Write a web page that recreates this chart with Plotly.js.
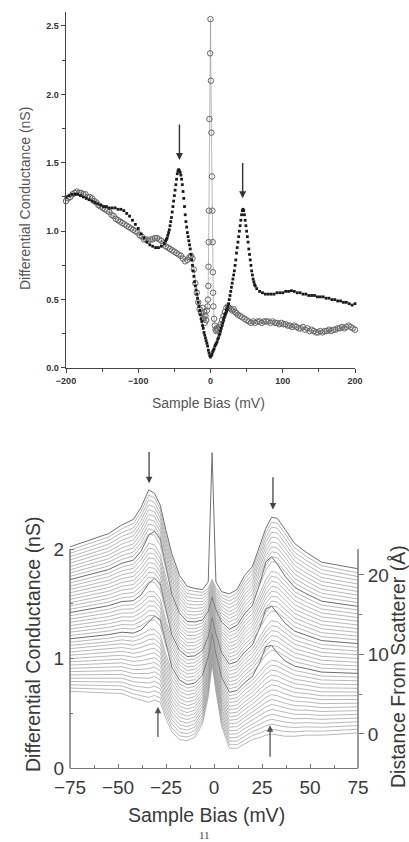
<!DOCTYPE html>
<html><head><meta charset="utf-8">
<script src="https://cdn.plot.ly/plotly-3.0.1.min.js"></script>
<style>html,body{margin:0;padding:0;background:#fff}#chart{width:409px;height:842px}</style>
</head><body><div id="chart"></div>
<script>
// ---------- top panel: two spectra ----------
const biasDots = [-200,-196,-192,-188,-184,-180,-176,-172,-168,-164,-160,-156,-152,-148,-144,-140,-136,-132,-128,-124,-120,-116,-112,-108,-104,-100,-96,-92,-88,-84,-80,-76,-72,-68,-64,
-62,-61,-60,-59,-58,-57,-56,-55,-54,-53,-52,-51,-50,-49,-48,-47,-46,-45,-44,-43,-42,-41,-40,-39,-38,-37,-36,-35,-34,-33,-32,-31,-30,-29,-28,-27,-26,-25,-24,-23,-22,-21,-20,-19,-18,-17,-16,-15,-14,-13,-12,-11,-10,-9,-8,-7,-6,-5,-4,-3,-2,-1,0,1,2,3,4,5,6,7,8,9,10,11,12,13,14,15,16,17,18,19,20,21,22,23,24,25,26,27,28,29,30,31,32,33,34,35,36,37,38,39,40,41,42,43,44,45,46,47,48,49,50,51,52,53,54,55,56,57,58,59,60,61,62,
64,68,72,76,80,84,88,92,96,100,104,108,112,116,120,124,128,132,136,140,144,148,152,156,160,164,168,172,176,180,184,188,192,196,200];
const condDots = [1.25,1.26,1.27,1.27,1.27,1.26,1.25,1.24,1.23,1.22,1.21,1.20,1.19,1.18,1.18,1.17,1.17,1.17,1.16,1.16,1.15,1.13,1.11,1.08,1.05,1.02,0.98,0.95,0.92,0.90,0.89,0.88,0.88,0.89,0.91,
0.93,0.94,0.95,0.97,0.99,1.01,1.04,1.07,1.10,1.14,
1.18,1.22,1.26,1.30,1.34,1.38,1.42,1.44,1.45,1.44,
1.43,1.41,1.38,1.34,1.29,1.24,1.18,1.12,1.07,1.03,
0.99,0.96,0.93,0.90,0.87,0.83,0.79,0.75,0.71,0.67,
0.63,0.60,0.57,0.54,0.51,0.48,0.45,0.42,0.39,0.36,
0.34,0.31,0.29,0.26,0.24,0.22,0.20,0.18,0.16,0.13,
0.11,0.09,0.08,0.09,0.10,0.12,0.13,0.14,0.16,0.17,
0.18,0.19,0.21,0.22,0.24,0.25,0.27,0.29,0.31,0.33,
0.35,0.37,0.39,0.40,0.42,0.43,0.45,0.47,0.50,0.53,
0.56,0.59,0.62,0.65,0.68,0.71,0.75,0.79,0.84,0.88,
0.92,0.96,1.00,1.04,1.08,1.12,1.15,1.16,1.15,1.12,
1.08,1.04,1.00,0.96,0.92,0.87,0.83,0.79,0.75,0.71,
0.68,0.65,0.63,0.61,0.60,
0.58,0.56,0.55,0.54,0.54,0.54,0.54,0.55,0.55,0.55,0.56,0.56,0.565,0.56,0.55,0.55,0.54,0.54,0.53,0.53,0.53,0.52,0.52,0.52,0.51,0.51,0.50,0.50,0.49,0.49,0.48,0.48,0.47,0.46,0.47];

const biasCircles = [-200,-197,-194,-191,-188,-185,-182,-179,-176,-173,-170,-167,-164,-161,-158,-155,-152,-149,-146,-143,-140,-137,-134,-131,-128,-125,-122,-119,-116,-113,-110,-107,-104,-101,-98,-95,-92,-89,-86,-83,-80,-77,-74,-71,-68,-65,-62,-59,-56,-53,-50,-47,-44,-41,-38,-35,-32,-29,
-27,-25,-23,-21,-19,-17,-15,-13,-11,-10,-9,-8,-7,-6,-5,-4,
-3.5,-3,-2.8,-2.5,-2.2,-1.5,-0.5,0,0.6,1.2,2,2.6,3,3.3,3.6,4,
5,6,7,8,9,10,12,14,16,18,20,22,24,26,28,30,32,34,36,38,
41,44,47,50,53,56,59,62,65,68,71,74,77,80,83,86,89,92,95,98,101,104,107,110,113,116,119,122,125,128,131,134,137,140,143,146,149,152,155,158,161,164,167,170,173,176,179,182,185,188,191,194,197,200];
const condCircles = [1.22,1.24,1.25,1.27,1.28,1.29,1.28,1.28,1.27,1.27,1.25,1.25,1.24,1.22,1.21,1.19,1.18,1.17,1.16,1.15,1.14,1.12,1.11,1.09,1.08,1.07,1.06,1.05,1.04,1.03,1.02,1.01,1.00,0.99,0.97,0.96,0.94,0.94,0.93,0.94,0.94,0.95,0.95,0.94,0.93,0.91,0.89,0.88,0.87,0.86,0.85,0.84,0.83,0.82,0.80,0.78,0.79,0.81,
0.82,0.80,0.72,0.62,0.55,0.48,0.43,0.40,0.44,0.36,0.41,0.33,0.38,0.35,0.42,0.45,
0.50,0.60,0.74,0.92,1.15,1.82,2.30,2.55,2.10,1.72,1.40,1.15,0.92,0.70,0.55,0.45,
0.36,0.31,0.28,0.27,0.29,0.28,0.30,0.32,0.35,0.38,0.41,0.44,0.45,0.44,0.43,0.42,0.43,0.41,0.40,0.39,
0.38,0.37,0.36,0.35,0.34,0.33,0.34,0.33,0.34,0.34,0.33,0.34,0.34,0.34,0.33,0.34,0.33,0.33,0.32,0.33,0.32,0.32,0.31,0.31,0.30,0.31,0.30,0.29,0.29,0.30,0.28,0.29,0.27,0.28,0.27,0.26,0.26,0.27,0.26,0.27,0.27,0.28,0.27,0.28,0.28,0.29,0.29,0.30,0.29,0.30,0.31,0.30,0.29,0.28];

const topXTicks = [-200,-100,0,100,200];
const topYTicks = [0,0.5,1,1.5,2,2.5];
const topYTickText = ['0.0','0.5','1.0','1.5','2.0','2.5'];

// ---------- bottom panel: waterfall of spectra vs distance ----------
const wfBias = [-75,-55,-48,-42,-38,-34,-31,-28,-25,-22,-18,-14,-10,-6,-3,-1,1,4,8,12,16,20,24,27,30,33,37,42,48,56,75];
const wfSpectra = [
[.7,.69,.68,.64,.62,.6,.62,.6,.45,.33,.26,.25,.28,.4,.65,.95,.7,.38,.18,.18,.22,.26,.28,.3,.31,.3,.29,.29,.3,.3,.32],
[.73,.723,.715,.677,.66,.644,.663,.641,.489,.367,.294,.282,.311,.428,.673,.968,.722,.408,.212,.213,.255,.296,.32,.343,.355,.345,.333,.33,.338,.336,.354],
[.76,.756,.75,.714,.7,.688,.706,.682,.528,.404,.328,.314,.342,.456,.696,.986,.744,.436,.244,.246,.29,.332,.36,.386,.4,.39,.376,.37,.376,.372,.388],
[.79,.789,.785,.751,.74,.732,.749,.723,.567,.441,.362,.346,.373,.484,.719,1.004,.766,.464,.276,.279,.325,.368,.4,.429,.445,.435,.419,.41,.414,.408,.422],
[.82,.822,.82,.788,.78,.776,.792,.764,.606,.478,.396,.378,.404,.512,.742,1.022,.788,.492,.308,.312,.36,.404,.44,.472,.49,.48,.462,.45,.452,.444,.456],
[.85,.855,.855,.825,.82,.82,.835,.805,.645,.515,.43,.41,.435,.54,.765,1.04,.81,.52,.34,.345,.395,.44,.48,.515,.535,.525,.505,.49,.49,.48,.49],
[.88,.888,.89,.862,.86,.864,.878,.846,.684,.552,.464,.442,.466,.568,.788,1.058,.832,.548,.372,.378,.43,.476,.52,.558,.58,.57,.548,.53,.528,.516,.524],
[.91,.921,.925,.899,.9,.908,.921,.887,.723,.589,.498,.474,.497,.596,.811,1.076,.854,.576,.404,.411,.465,.512,.56,.601,.625,.615,.591,.57,.566,.552,.558],
[.94,.954,.96,.936,.94,.952,.964,.928,.762,.626,.532,.506,.528,.624,.834,1.094,.876,.604,.436,.444,.5,.548,.6,.644,.67,.66,.634,.61,.604,.588,.592],
[.97,.987,.995,.973,.98,.996,1.007,.969,.801,.663,.566,.538,.559,.652,.857,1.112,.898,.632,.468,.477,.535,.584,.64,.687,.715,.705,.677,.65,.642,.624,.626],
[1,1.02,1.03,1.01,1.02,1.04,1.05,1.01,.84,.7,.6,.57,.59,.68,.88,1.13,.92,.66,.5,.51,.57,.62,.68,.73,.76,.75,.72,.69,.68,.66,.66],
[1.03,1.053,1.065,1.047,1.06,1.084,1.093,1.051,.879,.737,.634,.602,.621,.708,.903,1.148,.942,.688,.532,.543,.605,.656,.72,.773,.805,.795,.763,.73,.718,.696,.694],
[1.06,1.086,1.1,1.084,1.1,1.128,1.136,1.092,.918,.774,.668,.634,.652,.736,.926,1.166,.964,.716,.564,.576,.64,.692,.76,.816,.85,.84,.806,.77,.756,.732,.728],
[1.09,1.119,1.135,1.121,1.14,1.172,1.179,1.133,.957,.811,.702,.666,.683,.764,.949,1.184,.986,.744,.596,.609,.675,.728,.8,.859,.895,.885,.849,.81,.794,.768,.762],
[1.12,1.152,1.17,1.158,1.18,1.216,1.222,1.174,.996,.848,.736,.698,.714,.792,.972,1.202,1.008,.772,.628,.642,.71,.764,.84,.902,.94,.93,.892,.85,.832,.804,.796],
[1.15,1.185,1.205,1.195,1.22,1.26,1.265,1.215,1.035,.885,.77,.73,.745,.82,.995,1.22,1.03,.8,.66,.675,.745,.8,.88,.945,.985,.975,.935,.89,.87,.84,.83],
[1.18,1.218,1.24,1.232,1.26,1.334,1.388,1.356,1.134,.922,.804,.762,.776,.848,1.018,1.238,1.052,.828,.692,.708,.78,.836,.97,1.108,1.12,1.05,.978,.93,.908,.876,.864],
[1.21,1.251,1.275,1.269,1.3,1.348,1.351,1.297,1.113,.959,.838,.794,.807,.876,1.041,1.256,1.074,.856,.724,.741,.815,.872,.96,1.031,1.075,1.065,1.021,.97,.946,.912,.898],
[1.24,1.284,1.31,1.306,1.34,1.392,1.394,1.338,1.152,.996,.872,.826,.838,.904,1.064,1.274,1.096,.884,.756,.774,.85,.908,1,1.074,1.12,1.11,1.064,1.01,.984,.948,.932],
[1.27,1.317,1.345,1.343,1.38,1.436,1.437,1.379,1.191,1.033,.906,.858,.869,.932,1.087,1.292,1.118,.912,.788,.807,.885,.944,1.04,1.117,1.165,1.155,1.107,1.05,1.022,.984,.966],
[1.3,1.35,1.38,1.38,1.42,1.48,1.48,1.42,1.23,1.07,.94,.89,.9,.96,1.11,1.31,1.14,.94,.82,.84,.92,.98,1.08,1.16,1.21,1.2,1.15,1.09,1.06,1.02,1],
[1.33,1.383,1.415,1.417,1.46,1.524,1.523,1.461,1.269,1.107,.974,.922,.931,.988,1.133,1.328,1.162,.968,.852,.873,.955,1.016,1.12,1.203,1.255,1.245,1.193,1.13,1.098,1.056,1.034],
[1.36,1.416,1.45,1.454,1.5,1.568,1.566,1.502,1.308,1.144,1.008,.954,.962,1.016,1.156,1.346,1.184,.996,.884,.906,.99,1.052,1.16,1.246,1.3,1.29,1.236,1.17,1.136,1.092,1.068],
[1.39,1.449,1.485,1.491,1.54,1.612,1.609,1.543,1.347,1.181,1.042,.986,.993,1.044,1.179,1.364,1.206,1.024,.916,.939,1.025,1.088,1.2,1.289,1.345,1.335,1.279,1.21,1.174,1.128,1.102],
[1.42,1.482,1.52,1.528,1.58,1.686,1.732,1.684,1.446,1.218,1.076,1.018,1.024,1.072,1.202,1.382,1.228,1.052,.948,.972,1.06,1.124,1.29,1.452,1.48,1.41,1.322,1.25,1.212,1.164,1.136],
[1.45,1.515,1.555,1.565,1.62,1.7,1.695,1.625,1.425,1.255,1.11,1.05,1.055,1.1,1.225,1.4,1.25,1.08,.98,1.005,1.095,1.16,1.28,1.375,1.435,1.425,1.365,1.29,1.25,1.2,1.17],
[1.48,1.548,1.59,1.602,1.66,1.744,1.738,1.666,1.464,1.292,1.144,1.082,1.086,1.128,1.248,1.418,1.272,1.108,1.012,1.038,1.13,1.196,1.32,1.418,1.48,1.47,1.408,1.33,1.288,1.236,1.204],
[1.51,1.581,1.625,1.639,1.7,1.788,1.781,1.707,1.503,1.329,1.178,1.114,1.117,1.156,1.271,1.436,1.294,1.136,1.044,1.071,1.165,1.232,1.36,1.461,1.525,1.515,1.451,1.37,1.326,1.272,1.238],
[1.54,1.614,1.66,1.676,1.74,1.832,1.824,1.748,1.542,1.366,1.212,1.146,1.148,1.184,1.294,1.454,1.316,1.164,1.076,1.104,1.2,1.268,1.4,1.504,1.57,1.56,1.494,1.41,1.364,1.308,1.272],
[1.57,1.647,1.695,1.713,1.78,1.876,1.867,1.789,1.581,1.403,1.246,1.178,1.179,1.212,1.317,1.472,1.338,1.192,1.108,1.137,1.235,1.304,1.44,1.547,1.615,1.605,1.537,1.45,1.402,1.344,1.306],
[1.6,1.68,1.73,1.75,1.82,1.92,1.91,1.83,1.62,1.44,1.28,1.21,1.21,1.24,1.34,1.49,1.36,1.22,1.14,1.17,1.27,1.34,1.48,1.59,1.66,1.65,1.58,1.49,1.44,1.38,1.34],
[1.63,1.713,1.765,1.787,1.86,1.964,1.953,1.871,1.659,1.477,1.314,1.242,1.241,1.268,1.363,1.508,1.382,1.248,1.172,1.203,1.305,1.376,1.52,1.633,1.705,1.695,1.623,1.53,1.478,1.416,1.374],
[1.66,1.746,1.8,1.824,1.9,2.008,1.996,1.912,1.698,1.514,1.348,1.274,1.272,1.296,1.386,1.526,1.404,1.276,1.204,1.236,1.34,1.412,1.56,1.676,1.75,1.74,1.666,1.57,1.516,1.452,1.408],
[1.69,1.779,1.835,1.861,1.94,2.052,2.039,1.953,1.737,1.551,1.382,1.306,1.303,1.324,1.409,1.544,1.426,1.304,1.236,1.269,1.375,1.448,1.6,1.719,1.795,1.785,1.709,1.61,1.554,1.488,1.442],
[1.72,1.812,1.87,1.898,1.98,2.126,2.162,2.094,1.836,1.588,1.416,1.338,1.334,1.352,1.432,1.562,1.448,1.332,1.268,1.302,1.41,1.484,1.69,1.882,1.93,1.86,1.752,1.65,1.592,1.524,1.476],
[1.75,1.845,1.905,1.935,2.02,2.14,2.125,2.035,1.815,1.625,1.45,1.37,1.365,1.38,1.455,1.58,1.47,1.36,1.3,1.335,1.445,1.52,1.68,1.805,1.885,1.875,1.795,1.69,1.63,1.56,1.51],
[1.78,1.878,1.94,1.972,2.06,2.184,2.168,2.076,1.854,1.662,1.484,1.402,1.396,1.408,1.478,1.598,1.492,1.388,1.332,1.368,1.48,1.556,1.72,1.848,1.93,1.92,1.838,1.73,1.668,1.596,1.544],
[1.81,1.911,1.975,2.009,2.1,2.228,2.211,2.117,1.893,1.699,1.518,1.434,1.427,1.436,1.501,1.616,1.514,1.416,1.364,1.401,1.515,1.592,1.76,1.891,1.975,1.965,1.881,1.77,1.706,1.632,1.578],
[1.84,1.944,2.01,2.046,2.14,2.272,2.254,2.158,1.932,1.736,1.552,1.466,1.458,1.464,1.524,1.634,1.536,1.444,1.396,1.434,1.55,1.628,1.8,1.934,2.02,2.01,1.924,1.81,1.744,1.668,1.612],
[1.87,1.977,2.045,2.083,2.18,2.316,2.297,2.199,1.971,1.773,1.586,1.498,1.489,1.492,1.547,1.652,1.558,1.472,1.428,1.467,1.585,1.664,1.84,1.977,2.065,2.055,1.967,1.85,1.782,1.704,1.646],
[1.9,2.01,2.08,2.12,2.22,2.36,2.34,2.24,2.01,1.81,1.62,1.53,1.52,1.52,1.57,1.67,1.58,1.5,1.46,1.5,1.62,1.7,1.88,2.02,2.11,2.1,2.01,1.89,1.82,1.74,1.68],
[1.93,2.043,2.115,2.157,2.26,2.404,2.383,2.281,2.049,1.847,1.654,1.562,1.551,1.548,1.593,1.688,1.602,1.528,1.492,1.533,1.655,1.736,1.92,2.063,2.155,2.145,2.053,1.93,1.858,1.776,1.714],
[1.96,2.076,2.15,2.194,2.3,2.448,2.426,2.322,2.088,1.884,1.688,1.594,1.582,1.576,1.616,1.706,1.624,1.556,1.524,1.566,1.69,1.772,1.96,2.106,2.2,2.19,2.096,1.97,1.896,1.812,1.748],
[1.99,2.109,2.185,2.231,2.34,2.492,2.469,2.363,2.127,1.921,1.722,1.626,1.613,1.604,1.639,1.724,1.646,1.584,1.556,1.599,1.725,1.808,2,2.149,2.245,2.235,2.139,2.01,1.934,1.848,1.782],
[2.02,2.14,2.22,2.27,2.38,2.54,2.51,2.4,2.17,1.96,1.76,1.66,1.64,1.63,1.7,2.88,1.7,1.61,1.59,1.63,1.76,1.84,2.04,2.19,2.29,2.28,2.18,2.05,1.97,1.88,1.82]
];
const wfHighlight = [16,24,34];
const botXTicks = [-75,-50,-25,0,25,50,75];
const botYTicks = [0,1,2];
const distTicks = [0,10,20];

// ---------- build ----------
const traces = [];
traces.push({x: biasCircles, y: condCircles, xaxis:'x', yaxis:'y', type:'scatter', mode:'lines+markers',
  line:{color:'#9a9a9a', width:0.7},
  marker:{symbol:'circle-open', size:5.5, color:'#666', line:{width:1}},
  cliponaxis:false, hoverinfo:'skip', showlegend:false});
traces.push({x: biasDots, y: condDots, xaxis:'x', yaxis:'y', type:'scatter', mode:'markers',
  marker:{symbol:'square', size:2.8, color:'#1a1a1a', line:{width:0}},
  cliponaxis:false, hoverinfo:'skip', showlegend:false});

const lastRow = wfSpectra.length - 1;
wfSpectra.forEach((row, i) => {
  const hi = wfHighlight.includes(i);
  traces.push({x: wfBias, y: row, xaxis:'x2', yaxis:'y2', type:'scatter', mode:'lines',
    line:{color: hi ? '#6b6b6b' : (i === lastRow ? '#707070' : '#a0a0a0'), width: hi ? 1.0 : (i === lastRow ? 1.0 : 0.75)},
    hoverinfo:'skip', showlegend:false});
});
traces.push({x:[null], y:[null], xaxis:'x2', yaxis:'y3', type:'scatter', mode:'markers', hoverinfo:'skip', showlegend:false});

const topTickFont = {family:'Liberation Sans, Arial, sans-serif', size:9, color:'#333', weight:'bold'};
const botTickFont = {family:'Liberation Sans, Arial, sans-serif', size:19, color:'#3a3a3a'};

const layout = {
  width:409, height:842, margin:{l:0,r:0,t:0,b:0},
  paper_bgcolor:'#fff', plot_bgcolor:'rgba(0,0,0,0)', showlegend:false,
  font:{family:'Liberation Sans, Arial, sans-serif'},
  xaxis:{domain:[0.16137,0.86797], anchor:'y', range:[-200,200], tickmode:'array', tickvals:topXTicks,
    ticks:'outside', ticklen:4, tickwidth:1, tickcolor:'#444',
    minor:{dtick:50, tick0:0, ticks:'outside', ticklen:3, tickcolor:'#444'},
    showline:true, linecolor:'#444', linewidth:1.5, showgrid:false, zeroline:false, tickfont:topTickFont},
  yaxis:{domain:[0.56295,0.98539], anchor:'x', range:[0,2.6], tickmode:'array', tickvals:topYTicks, ticktext:topYTickText,
    ticks:'outside', ticklen:4, tickwidth:1, tickcolor:'#444',
    minor:{dtick:0.25, tick0:0, ticks:'outside', ticklen:3, tickcolor:'#444'},
    showline:true, linecolor:'#444', linewidth:1.5, showgrid:false, zeroline:false, tickfont:topTickFont},
  xaxis2:{domain:[0.17115,0.87531], anchor:'y2', range:[-75,75], tickmode:'array', tickvals:botXTicks,
    ticks:'inside', ticklen:4, tickwidth:1, tickcolor:'#777', ticklabelstandoff:2,
    minor:{dtick:12.5, tick0:0, ticks:'inside', ticklen:3, tickcolor:'#777'},
    showline:true, linecolor:'#777', linewidth:1.5, showgrid:false, zeroline:false, tickfont:botTickFont},
  yaxis2:{domain:[0.08789,0.4715], anchor:'x2', range:[0,2.95], tickmode:'array', tickvals:botYTicks,
    ticks:'inside', ticklen:4, tickwidth:1, tickcolor:'#777', ticklabelstandoff:5,
    minor:{tickmode:'array', tickvals:[0.5,1.5], ticks:'inside', ticklen:3, tickcolor:'#777'},
    showline:false, showgrid:false, zeroline:false, tickfont:botTickFont},
  yaxis3:{overlaying:'y2', side:'right', anchor:'x2', range:[-4.28,36.35], tickmode:'array', tickvals:distTicks,
    ticks:'outside', ticklen:5, tickwidth:1, tickcolor:'#777',
    minor:{tickmode:'array', tickvals:[5,15], ticks:'outside', ticklen:3, tickcolor:'#777'},
    showline:false, showgrid:false, zeroline:false, tickfont:botTickFont},
  shapes:[
    {type:'line', xref:'x2 domain', yref:'y2', x0:0, x1:0, y0:0, y1:2, line:{color:'#777', width:1.5}},
    {type:'line', xref:'x2 domain', yref:'y2', x0:1, x1:1, y0:0, y1:2, line:{color:'#777', width:1.5}}
  ],
  annotations:[
    {text:'Sample Bias (mV)', xref:'paper', yref:'paper', x:0.511, y:0.5214, showarrow:false, xanchor:'center', yanchor:'middle',
      font:{size:14, color:'#555'}},
    {text:'Differential Conductance (nS)', xref:'paper', yref:'paper', x:0.0611, y:0.7648, textangle:-90, showarrow:false,
      xanchor:'center', yanchor:'middle', font:{size:14, color:'#555'}},
    {text:'Sample Bias (mV)', xref:'paper', yref:'paper', x:0.5037, y:0.0321, showarrow:false, xanchor:'center', yanchor:'middle',
      font:{size:19.5, color:'#3a3a3a'}},
    {text:'Differential Conductance (nS)', xref:'paper', yref:'paper', x:0.0807, y:0.234, textangle:-90, showarrow:false,
      xanchor:'center', yanchor:'middle', font:{size:19.5, color:'#3a3a3a'}},
    {text:'Distance From Scatterer (Å)', xref:'paper', yref:'paper', x:0.9731, y:0.209, textangle:-90, showarrow:false,
      xanchor:'center', yanchor:'middle', font:{size:19.5, color:'#3a3a3a'}},
    {text:'11', xref:'paper', yref:'paper', x:0.501, y:0.0083, showarrow:false, xanchor:'center', yanchor:'middle',
      font:{family:'Liberation Serif, serif', size:11, color:'#444'}},
    // arrows, top panel
    {text:'', x:-43, y:1.52, ax:-43, ay:1.79, xref:'x', yref:'y', axref:'x', ayref:'y', showarrow:true,
      arrowhead:2, arrowsize:1, arrowwidth:1.4, arrowcolor:'#333', standoff:0},
    {text:'', x:44.5, y:1.24, ax:44.5, ay:1.51, xref:'x', yref:'y', axref:'x', ayref:'y', showarrow:true,
      arrowhead:2, arrowsize:1, arrowwidth:1.4, arrowcolor:'#333', standoff:0},
    // arrows, bottom panel
    {text:'', x:-33.8, y:2.6, ax:-33.8, ay:2.9, xref:'x2', yref:'y2', axref:'x2', ayref:'y2', showarrow:true,
      arrowhead:2, arrowsize:1, arrowwidth:1.3, arrowcolor:'#444', standoff:0},
    {text:'', x:30.7, y:2.36, ax:30.7, ay:2.67, xref:'x2', yref:'y2', axref:'x2', ayref:'y2', showarrow:true,
      arrowhead:2, arrowsize:1, arrowwidth:1.3, arrowcolor:'#444', standoff:0},
    {text:'', x:-29.2, y:0.56, ax:-29.2, ay:0.27, xref:'x2', yref:'y2', axref:'x2', ayref:'y2', showarrow:true,
      arrowhead:2, arrowsize:1, arrowwidth:1.3, arrowcolor:'#555', standoff:0},
    {text:'', x:29.2, y:0.39, ax:29.2, ay:0.09, xref:'x2', yref:'y2', axref:'x2', ayref:'y2', showarrow:true,
      arrowhead:2, arrowsize:1, arrowwidth:1.3, arrowcolor:'#555', standoff:0}
  ]
};

Plotly.newPlot('chart', traces, layout, {staticPlot:true, displayModeBar:false});
</script>
</body></html>
